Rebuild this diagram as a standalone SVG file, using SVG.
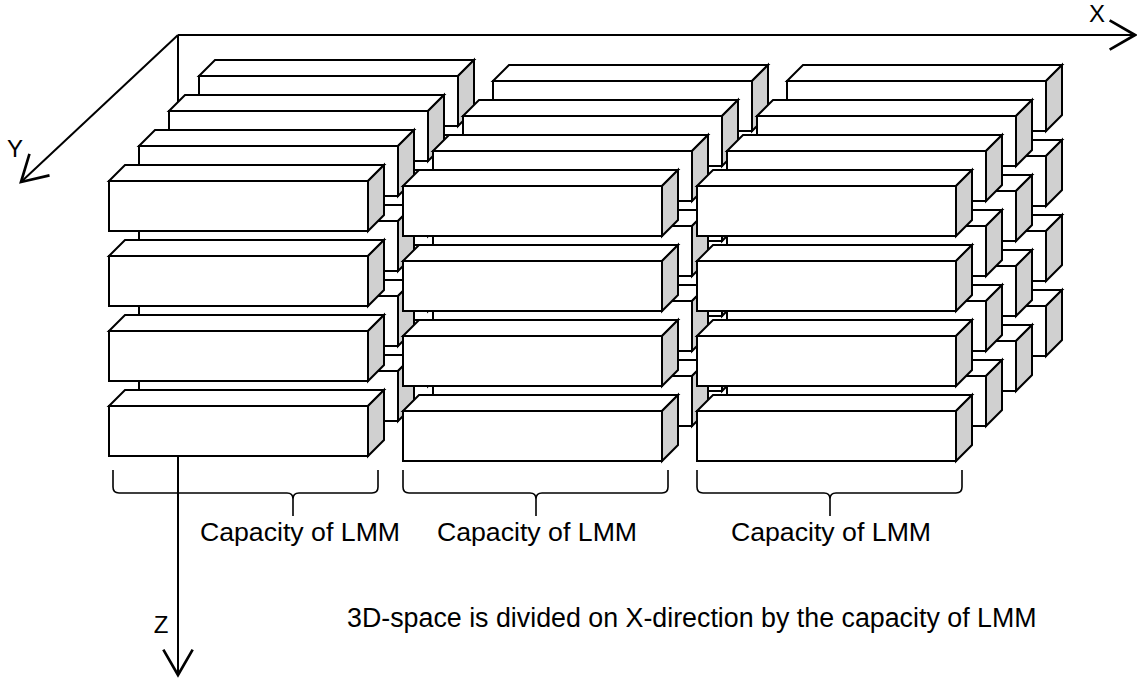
<svg xmlns="http://www.w3.org/2000/svg" xmlns:xlink="http://www.w3.org/1999/xlink" width="1137" height="679" viewBox="0 0 1137 679">
<style>
  .bx path, .bx rect { stroke: #000; stroke-width: 2; stroke-linejoin: miter; }
  .front, .top { fill: #fff; }
  .side { fill: #d0d0d0; }
  .axis { fill: none; stroke: #000; stroke-width: 2; }
  .brace { fill: none; stroke: #000; stroke-width: 1.6; }
  text { font-family: "Liberation Sans", Arial, sans-serif; fill: #000; }
  .lbl { font-size: 26.7px; text-anchor: middle; }
  .ax { font-size: 24px; text-anchor: middle; }
  .note { font-size: 26.8px; }
</style>
<defs>
  <g id="box" class="bx">
    <path class="top" d="M0,0 L16,-16 L275,-16 L259,0 Z"/>
    <path class="side" d="M259,0 L275,-16 L275,34 L259,50 Z"/>
    <rect class="front" x="0" y="0" width="259" height="50"/>
  </g>
  <marker id="arr" markerUnits="userSpaceOnUse" markerWidth="40" markerHeight="40" viewBox="-25 -15 30 30" refX="0" refY="0" orient="auto" overflow="visible">
    <path d="M-19,-11 L0,0 L-19,11" fill="none" stroke="#000" stroke-width="2"/>
  </marker>
</defs>
<rect width="1137" height="679" fill="#fff"/>

<g id="connectors">
  <line class="axis" x1="178" y1="35" x2="1135" y2="35" marker-end="url(#arr)"/>
  <line class="axis" x1="178" y1="35" x2="21" y2="182" marker-end="url(#arr)"/>
  <line class="axis" x1="178" y1="35" x2="178" y2="675" marker-end="url(#arr)"/>
</g>

<!-- layer 4 (back) -->
<g id="c1-l4-r1" transform="translate(199,76)"><use xlink:href="#box"/></g>
<g id="c1-l4-r2" transform="translate(199,151)"><use xlink:href="#box"/></g>
<g id="c1-l4-r3" transform="translate(199,226)"><use xlink:href="#box"/></g>
<g id="c1-l4-r4" transform="translate(199,301)"><use xlink:href="#box"/></g>
<g id="c2-l4-r1" transform="translate(493,81)"><use xlink:href="#box"/></g>
<g id="c2-l4-r2" transform="translate(493,156)"><use xlink:href="#box"/></g>
<g id="c2-l4-r3" transform="translate(493,231)"><use xlink:href="#box"/></g>
<g id="c2-l4-r4" transform="translate(493,306)"><use xlink:href="#box"/></g>
<g id="c3-l4-r1" transform="translate(787,81)"><use xlink:href="#box"/></g>
<g id="c3-l4-r2" transform="translate(787,156)"><use xlink:href="#box"/></g>
<g id="c3-l4-r3" transform="translate(787,231)"><use xlink:href="#box"/></g>
<g id="c3-l4-r4" transform="translate(787,306)"><use xlink:href="#box"/></g>

<!-- layer 3 -->
<g id="c1-l3-r1" transform="translate(169,111)"><use xlink:href="#box"/></g>
<g id="c1-l3-r2" transform="translate(169,186)"><use xlink:href="#box"/></g>
<g id="c1-l3-r3" transform="translate(169,261)"><use xlink:href="#box"/></g>
<g id="c1-l3-r4" transform="translate(169,336)"><use xlink:href="#box"/></g>
<g id="c2-l3-r1" transform="translate(463,116)"><use xlink:href="#box"/></g>
<g id="c2-l3-r2" transform="translate(463,191)"><use xlink:href="#box"/></g>
<g id="c2-l3-r3" transform="translate(463,266)"><use xlink:href="#box"/></g>
<g id="c2-l3-r4" transform="translate(463,341)"><use xlink:href="#box"/></g>
<g id="c3-l3-r1" transform="translate(757,116)"><use xlink:href="#box"/></g>
<g id="c3-l3-r2" transform="translate(757,191)"><use xlink:href="#box"/></g>
<g id="c3-l3-r3" transform="translate(757,266)"><use xlink:href="#box"/></g>
<g id="c3-l3-r4" transform="translate(757,341)"><use xlink:href="#box"/></g>

<!-- layer 2 -->
<g id="c1-l2-r1" transform="translate(139,146)"><use xlink:href="#box"/></g>
<g id="c1-l2-r2" transform="translate(139,221)"><use xlink:href="#box"/></g>
<g id="c1-l2-r3" transform="translate(139,296)"><use xlink:href="#box"/></g>
<g id="c1-l2-r4" transform="translate(139,371)"><use xlink:href="#box"/></g>
<g id="c2-l2-r1" transform="translate(433,151)"><use xlink:href="#box"/></g>
<g id="c2-l2-r2" transform="translate(433,226)"><use xlink:href="#box"/></g>
<g id="c2-l2-r3" transform="translate(433,301)"><use xlink:href="#box"/></g>
<g id="c2-l2-r4" transform="translate(433,376)"><use xlink:href="#box"/></g>
<g id="c3-l2-r1" transform="translate(727,151)"><use xlink:href="#box"/></g>
<g id="c3-l2-r2" transform="translate(727,226)"><use xlink:href="#box"/></g>
<g id="c3-l2-r3" transform="translate(727,301)"><use xlink:href="#box"/></g>
<g id="c3-l2-r4" transform="translate(727,376)"><use xlink:href="#box"/></g>

<!-- layer 1 (front) -->
<g id="c1-l1-r1" transform="translate(109,181)"><use xlink:href="#box"/></g>
<g id="c1-l1-r2" transform="translate(109,256)"><use xlink:href="#box"/></g>
<g id="c1-l1-r3" transform="translate(109,331)"><use xlink:href="#box"/></g>
<g id="c1-l1-r4" transform="translate(109,406)"><use xlink:href="#box"/></g>
<g id="c2-l1-r1" transform="translate(403,186)"><use xlink:href="#box"/></g>
<g id="c2-l1-r2" transform="translate(403,261)"><use xlink:href="#box"/></g>
<g id="c2-l1-r3" transform="translate(403,336)"><use xlink:href="#box"/></g>
<g id="c2-l1-r4" transform="translate(403,411)"><use xlink:href="#box"/></g>
<g id="c3-l1-r1" transform="translate(697,186)"><use xlink:href="#box"/></g>
<g id="c3-l1-r2" transform="translate(697,261)"><use xlink:href="#box"/></g>
<g id="c3-l1-r3" transform="translate(697,336)"><use xlink:href="#box"/></g>
<g id="c3-l1-r4" transform="translate(697,411)"><use xlink:href="#box"/></g>

<g id="braces">
  <path class="brace" d="M113,470 L113,487 Q113,493 119,493 L287,493 Q293,493 293,499 L293,516 M293,499 Q293,493 299,493 L372,493 Q378,493 378,487 L378,470"/>
  <path class="brace" d="M403,470 L403,487 Q403,493 409,493 L530,493 Q536,493 536,499 L536,516 M536,499 Q536,493 542,493 L662,493 Q668,493 668,487 L668,470"/>
  <path class="brace" d="M697,470 L697,487 Q697,493 703,493 L824,493 Q830,493 830,499 L830,516 M830,499 Q830,493 836,493 L956,493 Q962,493 962,487 L962,470"/>
</g>

<g id="labels">
  <text class="lbl" x="300" y="541">Capacity of LMM</text>
  <text class="lbl" x="537" y="541">Capacity of LMM</text>
  <text class="lbl" x="831" y="541">Capacity of LMM</text>
  <text class="note" x="347" y="627">3D-space is divided on X-direction by the capacity of LMM</text>
  <text class="ax" x="1097" y="22">X</text>
  <text class="ax" x="15" y="157">Y</text>
  <text class="ax" x="161" y="633">Z</text>
</g>
</svg>
